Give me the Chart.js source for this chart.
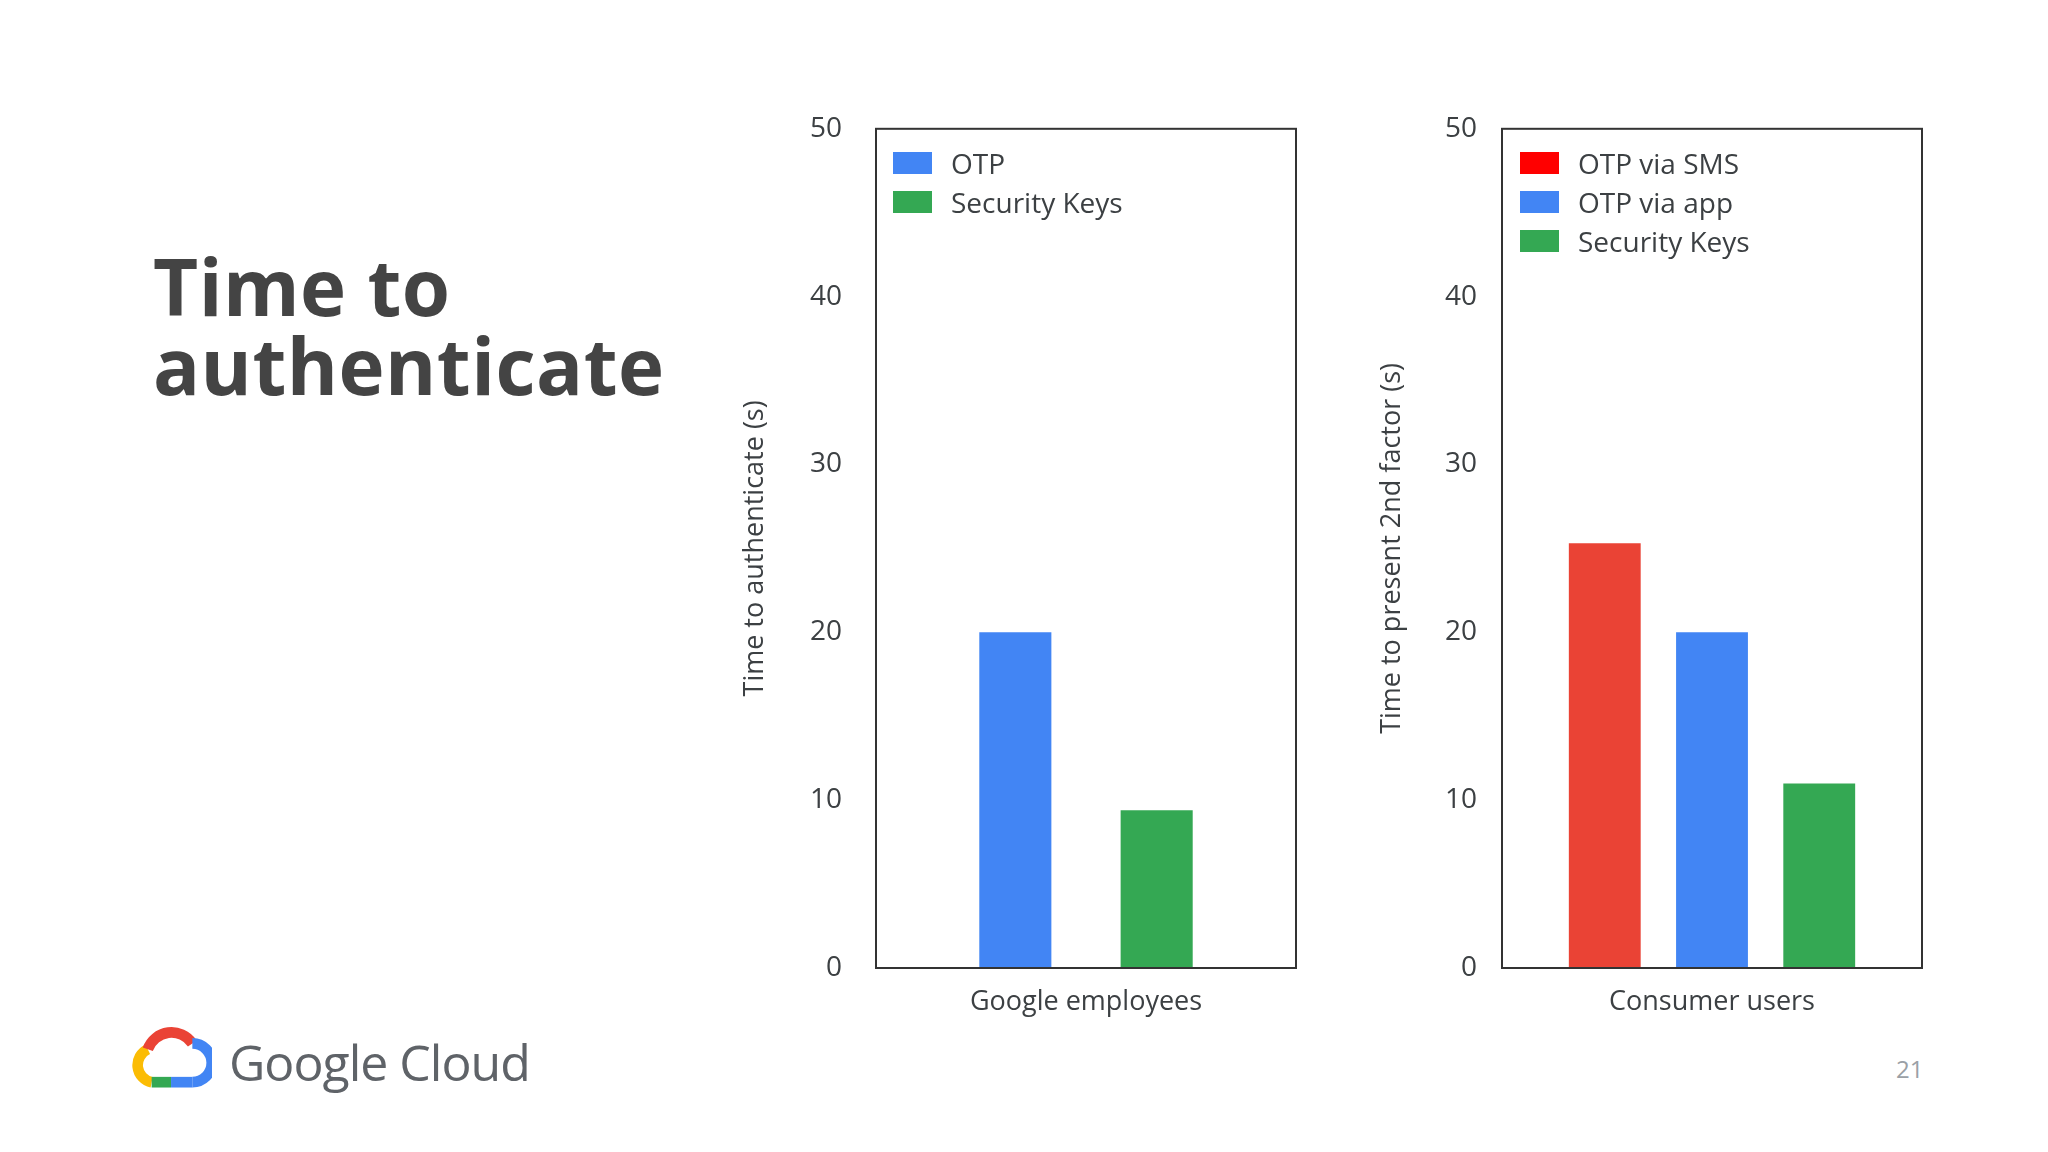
<!DOCTYPE html>
<html>
<head>
<meta charset="utf-8">
<script src="https://cdn.jsdelivr.net/npm/chart.js@4/dist/chart.umd.min.js"></script>
<style>
  body { margin:0; width:2048px; height:1152px; background:#fff; font-family:"Open Sans", Roboto, sans-serif; position:relative; overflow:hidden; color:#3c4043; }
  .title { position:absolute; left:153px; top:247px; font:bold 78px/79px "Open Sans", sans-serif; color:#444; letter-spacing:0.5px; }
  .box { position:absolute; }
  .legend { position:absolute; font-size:28px; color:#3c4043; }
  .legend div { height:39px; display:flex; align-items:center; }
  .legend span { display:inline-block; width:39px; height:22px; margin-right:19px; }
  .brand { position:absolute; left:229px; top:1028px; font-size:50px; color:#5f6368; letter-spacing:-1px; }
  .page { position:absolute; left:1896px; top:1052px; font-size:24px; color:#9aa0a6; }
</style>
</head>
<body>
<div class="title">Time to<br>authenticate</div>

<div class="box" style="left:730px;top:78px;width:576px;height:962px"><canvas id="left"></canvas></div>
<div class="box" style="left:1356px;top:87px;width:576px;height:953px"><canvas id="right"></canvas></div>

<div class="legend" style="left:893px;top:143px">
  <div><span style="background:#4285f4"></span>OTP</div>
  <div><span style="background:#34a853"></span>Security Keys</div>
</div>
<div class="legend" style="left:1520px;top:143px">
  <div><span style="background:#ff0000"></span>OTP via SMS</div>
  <div><span style="background:#4285f4"></span>OTP via app</div>
  <div><span style="background:#34a853"></span>Security Keys</div>
</div>

<svg class="box" style="left:132px;top:1026px" width="80" height="62" viewBox="0 0 82 64">
  <path d="M20 58 A18 18 0 0 1 16 24" stroke="#fbbc04" stroke-width="11" fill="none"/>
  <path d="M16 24 A26 26 0 0 1 62 18" stroke="#ea4335" stroke-width="11" fill="none"/>
  <path d="M62 18 A20 20 0 0 1 62 58" stroke="#4285f4" stroke-width="11" fill="none"/>
  <path d="M20 58 H40" stroke="#34a853" stroke-width="11"/>
  <path d="M40 58 H62" stroke="#4285f4" stroke-width="11"/>
</svg>
<div class="brand">Google Cloud</div>
<div class="page">21</div>

<script>
/* data ------------------------------------------------------- */
const yTicks = [0, 10, 20, 30, 40, 50];

const leftCategory  = ['Google employees'];
const leftLabels    = ['OTP', 'Security Keys'];
const leftValues    = [20, 9.4];

const rightCategory = ['Consumer users'];
const rightLabels   = ['OTP via SMS', 'OTP via app', 'Security Keys'];
const rightValues   = [25.3, 20, 11];

/* helpers ---------------------------------------------------- */
const frame = {
  id: 'frame',
  afterDraw(chart) {
    const { ctx, chartArea: a } = chart;
    ctx.save();
    ctx.strokeStyle = '#333';
    ctx.lineWidth = 2;
    ctx.strokeRect(a.left, a.top, a.right - a.left, a.bottom - a.top);
    ctx.restore();
  }
};

function drawBars(id, category, labels, values, colors, yTitle, cp, bp, titlePad, tickPad) {
  new Chart(document.getElementById(id), {
    type: 'bar',
    data: {
      labels: category,
      datasets: labels.map((l, i) => ({
        label: l, data: [values[i]], backgroundColor: colors[i],
        categoryPercentage: cp, barPercentage: bp
      }))
    },
    options: {
      responsive: true, maintainAspectRatio: false, animation: false,
      layout: { padding: { top: 6, right: 10 } },
      plugins: { legend: { display: false }, tooltip: { enabled: false } },
      scales: {
        x: {
          grid: { display: false }, border: { display: false },
          ticks: { font: { size: 27, family: 'Open Sans' }, color: '#3c4043', padding: 10 },
          afterFit: s => { s.height = 72; }
        },
        y: {
          min: 0, max: 50,
          afterBuildTicks: s => { s.ticks = yTicks.map(v => ({ value: v })); },
          grid: { display: false, drawTicks: false }, border: { display: false },
          ticks: { font: { size: 28, family: 'Open Sans' }, color: '#3c4043', padding: tickPad },
          title: { display: true, text: yTitle, font: { size: 27, family: 'Open Sans' }, color: '#3c4043', padding: { top: titlePad, bottom: 0 } },
          afterFit: s => { s.width = 146; }
        }
      }
    },
    plugins: [frame]
  });
}

drawBars('left', leftCategory, leftLabels, leftValues,
  ['#4285f4', '#34a853'], 'Time to authenticate (s)', 0.673, 0.51, 9, 34);
drawBars('right', rightCategory, rightLabels, rightValues,
  ['#ea4335', '#4285f4', '#34a853'], 'Time to present 2nd factor (s)', 0.766, 0.67, 20, 25);
</script>
</body>
</html>
